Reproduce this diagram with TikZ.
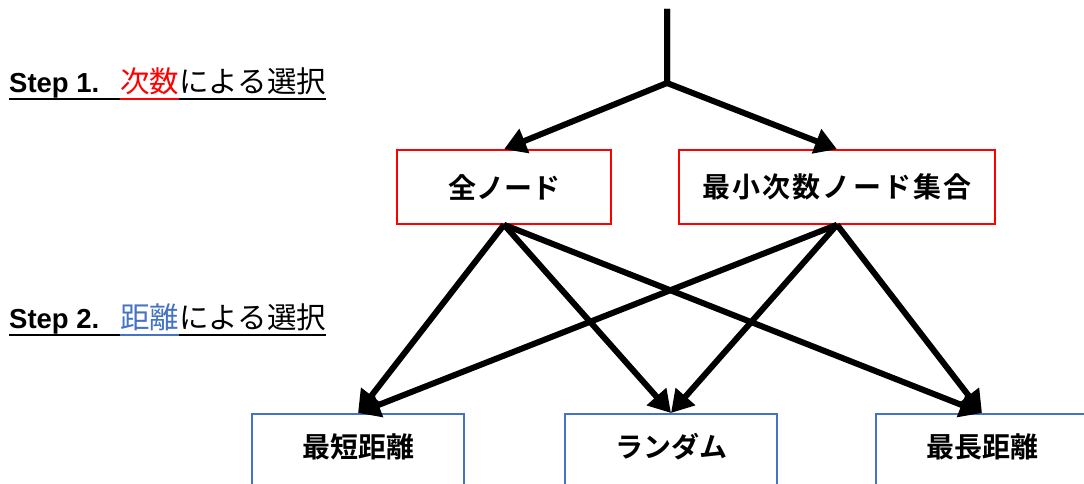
\documentclass[tikz,border=0pt]{standalone}
\usepackage{fontspec}
\setmainfont{Liberation Sans}
\newfontfamily\jp{Noto Sans CJK JP}
\newfontfamily\jpbold{Noto Sans CJK JP Bold}
\usetikzlibrary{arrows.meta}
\definecolor{stepblue}{RGB}{68,114,196}
\newcommand\uln[1]{\setbox0\hbox{#1}\rlap{\rule[-7.5pt]{\wd0}{2pt}}\box0}

\begin{document}
\begin{tikzpicture}
  [x=1pt,y=-1pt,
   degbox/.style={draw=red,line width=1.5pt,minimum height=74pt,inner sep=0pt,
     font=\jpbold\fontsize{28}{34}\selectfont},
   distbox/.style={draw=stepblue,line width=1.5pt,minimum width=212pt,anchor=north,
     inner sep=0pt,text height=44pt,text depth=40pt,font=\jpbold\fontsize{28}{34}\selectfont},
   steplabel/.style={anchor=base west,inner sep=0pt,font=\fontsize{27.5}{32}\selectfont},
   arr/.style={line width=6pt,line join=round,-{Triangle[length=22pt,width=25pt]}}]
  \useasboundingbox (0,0) rectangle (1084,484);
  \clip (0,0) rectangle (1084,484);

  \node[steplabel] (s1) at (9,93) {\uln{\bfseries Step 1.\hspace{21pt}}{\color{red}\uln{\jp\fontsize{29.5}{32}\selectfont 次数}}\uln{\jp\fontsize{29.5}{32}\selectfont による選択}};
  \node[steplabel] (s2) at (9,328) {\uln{\bfseries Step 2.\hspace{21pt}}{\color{stepblue}\uln{\jp\fontsize{29.5}{32}\selectfont 距離}}\uln{\jp\fontsize{29.5}{32}\selectfont による選択}};

  \coordinate (top) at (667,9);
  \coordinate (fork) at (667,83);
  \node[degbox,minimum width=214pt] (all) at (504,187) {全ノード};
  \node[degbox,minimum width=316pt] (mindeg) at (837,187) {\addfontfeature{LetterSpace=8}最小次数ノード集合};

  \node[distbox] (short) at (358,413) {最短距離};
  \node[distbox] (rand) at (671,413) {ランダム};
  \node[distbox] (long) at (982,413) {最長距離};

  \draw[arr] (top) -- (fork) -- (all.north);
  \draw[arr] (top) -- (fork) -- (mindeg.north);

  \draw[arr] (all.south) -- (short.north);
  \draw[arr] (all.south) -- (rand.north);
  \draw[arr] (all.south) -- (long.north);
  \draw[arr] (mindeg.south) -- (short.north);
  \draw[arr] (mindeg.south) -- (rand.north);
  \draw[arr] (mindeg.south) -- (long.north);
\end{tikzpicture}
\end{document}
